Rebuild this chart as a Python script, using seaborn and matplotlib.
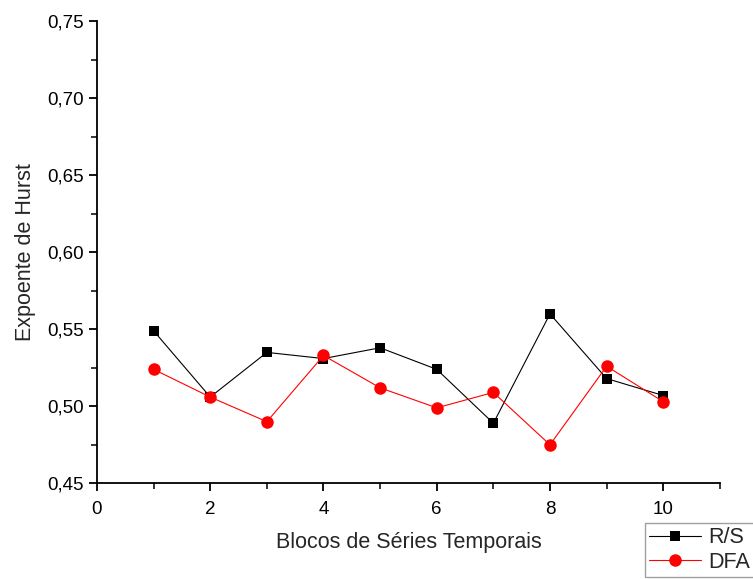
import pandas as pd
import matplotlib
matplotlib.use("Agg")
import matplotlib.pyplot as plt
import seaborn as sns
from matplotlib.ticker import FuncFormatter, MultipleLocator

# values
blocos = [1, 2, 3, 4, 5, 6, 7, 8, 9, 10]
rs = [0.549, 0.506, 0.535, 0.531, 0.538, 0.524, 0.489, 0.560, 0.518, 0.507]
dfa = [0.524, 0.506, 0.490, 0.533, 0.512, 0.499, 0.509, 0.475, 0.526, 0.503]

df = pd.DataFrame({"bloco": blocos, "R/S": rs, "DFA": dfa})

sns.set_theme(style="ticks")
plt.rcParams["font.family"] = ["Liberation Sans", "DejaVu Sans"]

fig = plt.figure(figsize=(7.53, 5.79), dpi=100)
ax = fig.add_axes([0.1288, 0.1653, 0.8272, 0.7979])

sns.lineplot(data=df, x="bloco", y="R/S", ax=ax, color="black", linewidth=0.8,
             marker="s", markersize=7.5, markeredgewidth=0, label="R/S")
sns.lineplot(data=df, x="bloco", y="DFA", ax=ax, color="red", linewidth=0.8,
             marker="o", markersize=9, markeredgewidth=0, label="DFA")

ax.set_xlim(0, 11)
ax.set_ylim(0.45, 0.75)
ax.xaxis.set_major_locator(MultipleLocator(2))
ax.xaxis.set_minor_locator(MultipleLocator(1))
ax.yaxis.set_major_locator(MultipleLocator(0.05))
ax.yaxis.set_minor_locator(MultipleLocator(0.025))
ax.yaxis.set_major_formatter(FuncFormatter(lambda v, p: f"{v:.2f}".replace(".", ",")))
ax.xaxis.set_major_formatter(FuncFormatter(lambda v, p: f"{int(round(v))}"))

for side in ["top", "right"]:
    ax.spines[side].set_visible(False)
for side in ["left", "bottom"]:
    ax.spines[side].set_linewidth(1.3)
    ax.spines[side].set_color("black")
ax.tick_params(which="major", length=6, width=1.3, direction="out", labelsize=13.5, colors="black")
ax.tick_params(which="minor", length=4, width=1.3, direction="out")
ax.tick_params(axis="x", pad=7)

ax.set_xlabel("Blocos de Séries Temporais", fontsize=15.5, labelpad=10)
ax.set_ylabel("Expoente de Hurst", fontsize=15.5, labelpad=8)

leg = ax.legend(loc="upper left", bbox_to_anchor=(645 / 753, 1 - 523 / 579),
                bbox_transform=fig.transFigure, fontsize=15.5, frameon=True,
                fancybox=False, edgecolor="#888888", handlelength=2.4,
                borderaxespad=0, borderpad=0.2, labelspacing=0.15, handletextpad=0.35)
leg.get_frame().set_linewidth(1.0)

fig.savefig("out.png", dpi=100)
